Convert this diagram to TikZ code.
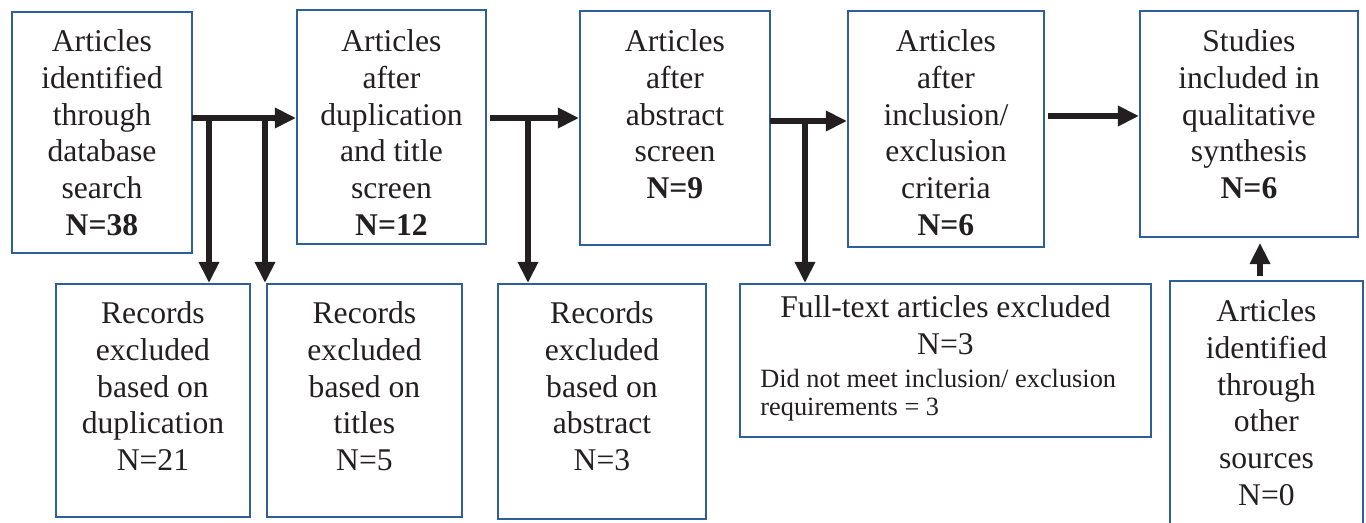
\documentclass[tikz,border=0pt]{standalone}
\usepackage{fontspec}
\setmainfont{Liberation Serif}
\usepackage{xcolor}
\usepackage{tikz}
\usetikzlibrary{arrows.meta,positioning,calc}
\definecolor{boxblue}{RGB}{46,95,155}
\definecolor{inkblack}{RGB}{35,31,32}
\def\px{0.02cm}
\tikzset{
  stagebox/.style={draw=boxblue, line width=1.1pt, inner sep=0pt, anchor=north west},
  boxsize/.style 2 args={minimum width=#1*\px, minimum height=#2*\px},
  boxtext/.style={align=center, inner sep=0pt, anchor=north, text=inkblack,
                  font=\fontsize{18}{21}\selectfont},
  notetext/.style={align=left, inner sep=0pt, anchor=north west, text=inkblack,
                   font=\fontsize{15}{16}\selectfont},
  flowarrow/.style={-{Triangle[length=12pt,width=11pt]}, line width=3.2pt, inkblack}
}

\begin{document}
\begin{tikzpicture}[x=\px, y=-\px]
    \useasboundingbox (0,0) rectangle (1366,523);

    % Top row
    \node[stagebox, boxsize={180}{241}] (A) at (11,11)   {};
    \node[stagebox, boxsize={189}{234}] (B) at (296,9)   {};
    \node[stagebox, boxsize={190}{234}] (C) at (579,10)  {};
    \node[stagebox, boxsize={196}{236}] (D) at (847,10)  {};
    \node[stagebox, boxsize={218}{226}] (E) at (1139,10) {};

    % Bottom row
    \node[stagebox, boxsize={194}{233}] (F) at (55,283)   {};
    \node[stagebox, boxsize={195}{233}] (G) at (266,283)  {};
    \node[stagebox, boxsize={208}{235}] (H) at (497,283)  {};
    \node[stagebox, boxsize={411}{153}] (I) at (739,283)  {};
    \node[stagebox, boxsize={193}{243}] (J) at (1169,280) {};

    % Texts
    \node[boxtext, below=0.36cm of A.north] (tA)
      {Articles\\identified\\through\\database\\search\\\textbf{N=38}};
    \node[boxtext, below=0.40cm of B.north] (tB)
      {Articles\\after\\duplication\\and title\\screen\\\textbf{N=12}};
    \node[boxtext, below=0.38cm of C.north] (tC)
      {Articles\\after\\abstract\\screen\\\textbf{N=9}};
    \node[boxtext, below=0.38cm of D.north] (tD)
      {Articles\\after\\inclusion/\\exclusion\\criteria\\\textbf{N=6}};
    \node[boxtext, below=0.38cm of E.north] (tE)
      {Studies\\included in\\qualitative\\synthesis\\\textbf{N=6}};
    \node[boxtext, below=0.36cm of F.north] (tF)
      {Records\\excluded\\based on\\duplication\\N=21};
    \node[boxtext, below=0.36cm of G.north] (tG)
      {Records\\excluded\\based on\\titles\\N=5};
    \node[boxtext, below=0.36cm of H.north] (tH)
      {Records\\excluded\\based on\\abstract\\N=3};
    \node[boxtext, below=0.24cm of I.north] (tI)
      {Full-text articles excluded\\N=3};
    \node[notetext] (tIb) at (760,369)
      {Did not meet inclusion/ exclusion\\requirements = 3};
    \node[boxtext, below=0.38cm of J.north] (tJ)
      {Articles\\identified\\through\\other\\sources\\N=0};

    % Junctions
    \coordinate (ab)  at (192,118);
    \coordinate (ab1) at (209,120);
    \coordinate (ab2) at (265,120);
    \coordinate (bc)  at (490,118);
    \coordinate (bc1) at (528,121);
    \coordinate (cd)  at (770,121);
    \coordinate (cd1) at (805,124);
    \coordinate (de)  at (1048,116);
    \coordinate (je)  at (1260,276);

    % Arrows
    \draw[flowarrow] (ab) -- (ab -| B.west);
    \draw[flowarrow] (ab1) -- (ab1 |- F.north);
    \draw[flowarrow] (ab2) -- (ab2 |- G.north);
    \draw[flowarrow] (bc) -- (bc -| C.west);
    \draw[flowarrow] (bc1) -- (bc1 |- H.north);
    \draw[flowarrow] (cd) -- (cd -| D.west);
    \draw[flowarrow] (cd1) -- (cd1 |- I.north);
    \draw[flowarrow] (de) -- (de -| E.west);
    \draw[flowarrow, shorten >=5*\px] (je) -- (je |- E.south);
\end{tikzpicture}
\end{document}
